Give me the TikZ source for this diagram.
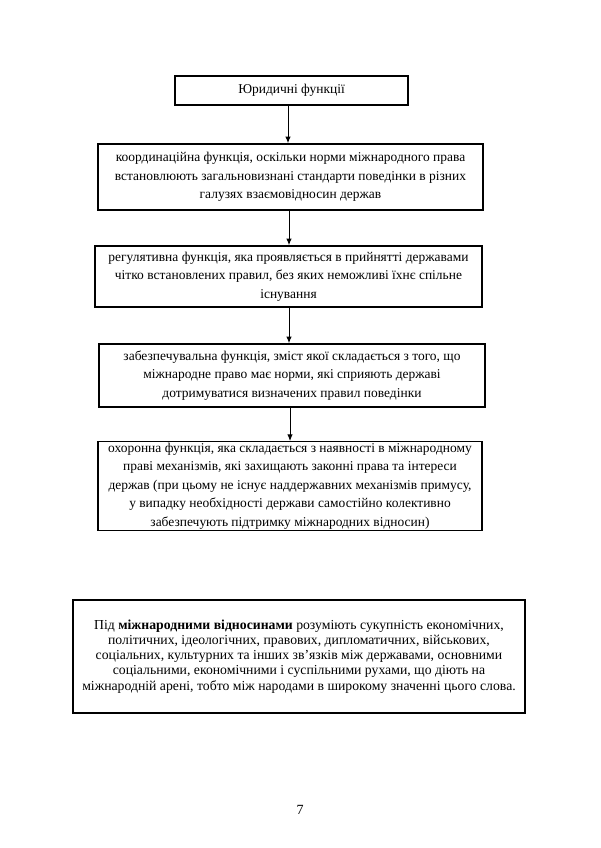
\documentclass[tikz,border=0pt]{standalone}
\usepackage{fontspec}
\setmainfont{Liberation Serif}
\usetikzlibrary{arrows.meta}

\tikzset{
	funcbox/.style={draw,line width=1pt,align=center,inner sep=0.75pt,font=\fontsize{10.1}{13.9}\selectfont},
	funcarrow/.style={-{Latex[length=5pt,width=4pt]},line width=0.75pt}
}

\begin{document}
\begin{tikzpicture}[x=0.75pt,y=0.75pt,yscale=-1,xscale=1]
				\useasboundingbox (0,0) rectangle (600,848);
				
				%Shape: Rectangle [id:yurfunc] 
				\node [funcbox,minimum width=0.75*233pt,minimum height=0.75*29pt] (yurfunc) at (291.5,90.5) {Юридичні функції};
				%Shape: Rectangle [id:koord] 
				\node [funcbox,minimum width=0.75*385pt,minimum height=0.75*66pt] (koord) at (290.5,177) {координаційна функція, оскільки норми міжнародного права\\встановлюють загальновизнані стандарти поведінки в різних\\галузях взаємовідносин держав};
				%Shape: Rectangle [id:regul] 
				\node [funcbox,minimum width=0.75*387pt,minimum height=0.75*61pt] (regul) at (288.5,276.5) {регулятивна функція, яка проявляється в прийнятті державами\\чітко встановлених правил, без яких неможливі їхнє спільне\\існування};
				%Shape: Rectangle [id:zabezp] 
				\node [funcbox,minimum width=0.75*386pt,minimum height=0.75*63pt] (zabezp) at (292,375.5) {забезпечувальна функція, зміст якої складається з того, що\\міжнародне право має норми, які сприяють державі\\дотримуватися визначених правил поведінки};
				%Shape: Rectangle [id:okhor] 
				\node [funcbox,minimum width=0.75*384pt,minimum height=0.75*82pt] (okhor) at (290,486) {охоронна функція, яка складається з наявності в міжнародному\\праві механізмів, які захищають законні права та інтереси\\держав (при цьому не існує наддержавних механізмів примусу,\\у випадку необхідності держави самостійно колективно\\забезпечують підтримку міжнародних відносин)};
				
				%Straight Lines [id:arr1] 
				\draw [funcarrow] (yurfunc.south -| 288,0) -- (koord.north -| 288,0);
				%Straight Lines [id:arr2] 
				\draw [funcarrow] (koord.south -| 289,0) -- (regul.north -| 289,0);
				%Straight Lines [id:arr3] 
				\draw [funcarrow] (regul.south -| 289,0) -- (zabezp.north -| 289,0);
				%Straight Lines [id:arr4] 
				\draw [funcarrow] (zabezp.south -| 290,0) -- (okhor.north -| 290,0);
				
				%Shape: Rectangle [id:vidnos] 
				\node [funcbox,font=\fontsize{10.3}{11.4}\selectfont,minimum width=0.75*452pt,minimum height=0.75*113pt] (vidnos) at (299,656.5) {Під \textbf{міжнародними відносинами} розуміють сукупність економічних,\\політичних, ідеологічних, правових, дипломатичних, військових,\\соціальних, культурних та інших зв’язків між державами, основними\\соціальними, економічними і суспільними рухами, що діють на\\міжнародній арені, тобто між народами в широкому значенні цього слова.};
				
				% Text Node
				\node [inner sep=0.75pt,font=\fontsize{10.5}{12}\selectfont] (pagenum) at (300,810) {7};
				
\end{tikzpicture}
\end{document}
